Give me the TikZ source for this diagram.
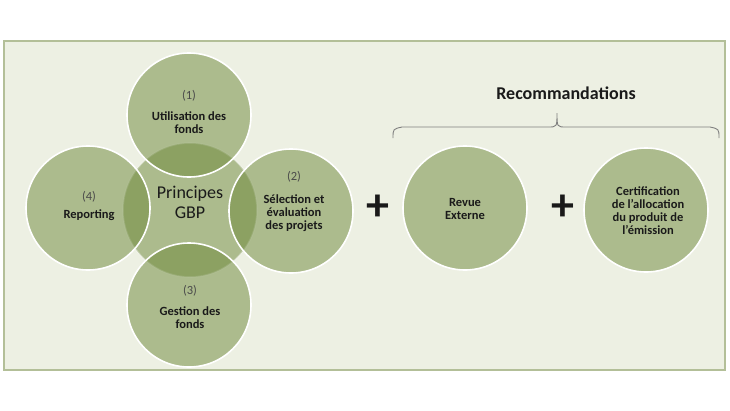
\documentclass[tikz,border=0pt]{standalone}
\usepackage{fontspec}
\setmainfont{Carlito}
\usetikzlibrary{positioning}
\definecolor{panelbg}{HTML}{EDF0E3}
\definecolor{panelline}{HTML}{B3BF98}
\definecolor{discgreen}{RGB}{109,136,57}
\definecolor{inktext}{HTML}{1A1A1A}
\definecolor{numtext}{HTML}{4A4A4A}
\definecolor{bracegray}{HTML}{7F7F7F}

\begin{document}
\begin{tikzpicture}[x=1pt,y=-1pt,
	disc/.style={shape=circle,minimum size=124pt,inner sep=0pt,fill=discgreen,fill opacity=.5,draw=white,line width=1.6pt},
	hub/.style={disc,minimum size=134pt,draw opacity=.35},
	caption/.style={align=center,text=inktext,font=\fontsize{12.5}{13}\selectfont\bfseries},
	bigcaption/.style={align=center,text=inktext,font=\fontsize{18}{20}\selectfont},
	plus/.style={text=inktext,font=\fontsize{46}{46}\selectfont\bfseries},
	bracket/.style={draw=bracegray,line width=.9pt}]
					\useasboundingbox (0,0) rectangle (730,410);
					\draw[panelline,line width=1.2pt,fill=panelbg] (4,41) rectangle (725,370);

					\node (hub) [hub] at (190,210) {};
					\node (use) [disc] at (189,115) {};
					\node (select) [disc] at (291,211) {};
					\node (manage) [disc] at (189,305) {};
					\node (report) [disc] at (88,208) {};
					\node (review) [disc] at (465,208) {};
					\node (certify) [disc] at (646,210) {};

					\node (hubtext) [bigcaption] at (190,202) {Principes\\GBP};
					\node (usetext) [caption] at (189,112) {{\mdseries\color{numtext}(1)}\\[8pt]Utilisation des\\fonds};
					\node (selecttext) [caption] at (294,201) {{\mdseries\color{numtext}(2)}\\[10pt]Sélection et\\évaluation\\des projets};
					\node (managetext) [caption] at (190,307) {{\mdseries\color{numtext}(3)}\\[8pt]Gestion des\\fonds};
					\node (reporttext) [caption] at (89,206) {{\mdseries\color{numtext}(4)}\\[5pt]Reporting};
					\node (reviewtext) [caption] at (465,209) {Revue\\Externe};
					\node (certifytext) [caption] at (648,211) {Certification\\de l'allocation\\du produit de\\l'émission};

					\node (plusone) [plus] at (378,208) {+};
					\node (plustwo) [plus] at (563,208) {+};

					\node (reco) [text=inktext,font=\fontsize{18}{20}\selectfont\bfseries] at (566,93) {Recommandations};
					\coordinate (braceleft) at (393,138);
					\coordinate (braceright) at (719,138);
					\coordinate (bracetip) at (557,113);
					\draw[bracket] (braceleft) .. controls (393,129) .. (402,127) -- (548,127) .. controls (557,127) .. (bracetip) .. controls (557,127) .. (566,127) -- (710,127) .. controls (719,129) .. (braceright);
				\end{tikzpicture}
\end{document}
